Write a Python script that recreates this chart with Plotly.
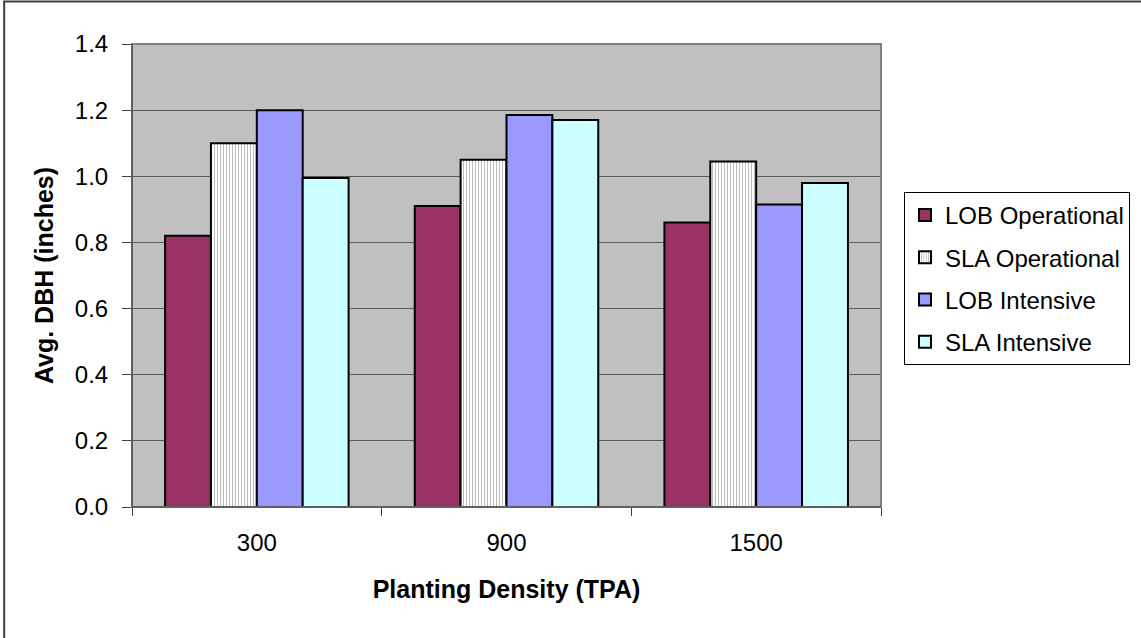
import plotly.graph_objects as go

categories = ["300", "900", "1500"]
series_names = ["LOB Operational", "SLA Operational", "LOB Intensive", "SLA Intensive"]
lob_operational = [0.82, 0.91, 0.86]
sla_operational = [1.10, 1.05, 1.045]
lob_intensive = [1.20, 1.185, 0.915]
sla_intensive = [0.995, 1.17, 0.98]
y_ticks = [0.0, 0.2, 0.4, 0.6, 0.8, 1.0, 1.2, 1.4]

FONT = "Liberation Sans, Arial, sans-serif"

fig = go.Figure()
series = [lob_operational, sla_operational, lob_intensive, sla_intensive]
colors = ["#993366", "#FFFFFF", "#9999FF", "#CCFFFF"]
for i, (name, vals, col) in enumerate(zip(series_names, series, colors)):
    marker = dict(color=col, line=dict(color="black", width=2))
    if name == "SLA Operational":
        marker["pattern"] = dict(shape="|", size=3, solidity=0.34,
                                 fgcolor="#7a7a7a", bgcolor="#FFFFFF")
    fig.add_trace(go.Bar(x=categories, y=vals, name=name, marker=marker,
                         legendgroup=f"g{i}"))

L, R, T, B = 132, 882, 44, 507
W, H = 1141, 638

def px_x(p):
    return (p - L) / (R - L)

def px_y(p):
    return (B - p) / (B - T)

fig.update_layout(
    width=W, height=H,
    margin=dict(l=L, r=W - R, t=T, b=H - B),
    paper_bgcolor="white",
    plot_bgcolor="#C0C0C0",
    barmode="group",
    bargap=0.265,
    bargroupgap=0,
    font=dict(family=FONT, size=24, color="black"),
    legend=dict(
        x=px_x(904), y=px_y(192), xanchor="left", yanchor="top",
        bordercolor="black", borderwidth=1, bgcolor="white",
        font=dict(family=FONT, size=24, color="black"),
        tracegroupgap=8, itemwidth=30,
    ),
    xaxis=dict(
        type="category",
        showline=True, linecolor="#404040", linewidth=1,
        ticks="outside", tickson="boundaries", ticklen=8, tickcolor="#404040",
        tickfont=dict(family=FONT, size=24, color="black"),
        ticklabelstandoff=14,
        title=dict(text="<b>Planting Density (TPA)</b>",
                   font=dict(family=FONT, size=25, color="black"), standoff=25),
        showgrid=False, automargin=False,
    ),
    yaxis=dict(
        range=[0, 1.4], tickvals=y_ticks, tickformat=".1f",
        showline=True, linecolor="#404040", linewidth=1,
        ticks="outside", ticklen=9, tickcolor="#404040",
        ticklabelstandoff=9,
        showgrid=True, gridcolor="#5a5a5a", gridwidth=1,
        zeroline=False,
        tickfont=dict(family=FONT, size=24, color="black"),
        title=dict(text="<b>Avg. DBH (inches)</b>",
                   font=dict(family=FONT, size=25, color="black"), standoff=14),
        automargin=False,
    ),
    shapes=[
        dict(type="rect", xref="paper", yref="paper", x0=0, x1=1, y0=0, y1=1,
             line=dict(color="#808080", width=2), layer="above"),
        dict(type="line", xref="paper", yref="paper", x0=0, x1=0, y0=0, y1=1,
             line=dict(color="#404040", width=1), layer="above"),
        dict(type="line", xref="paper", yref="paper", x0=0, x1=1, y0=0, y1=0,
             line=dict(color="#404040", width=1), layer="above"),
        dict(type="rect", xref="paper", yref="paper",
             x0=px_x(4), x1=px_x(1200), y0=px_y(700), y1=px_y(1.5),
             line=dict(color="#404040", width=2), layer="above"),
    ],
)

fig.write_html("out.html")
